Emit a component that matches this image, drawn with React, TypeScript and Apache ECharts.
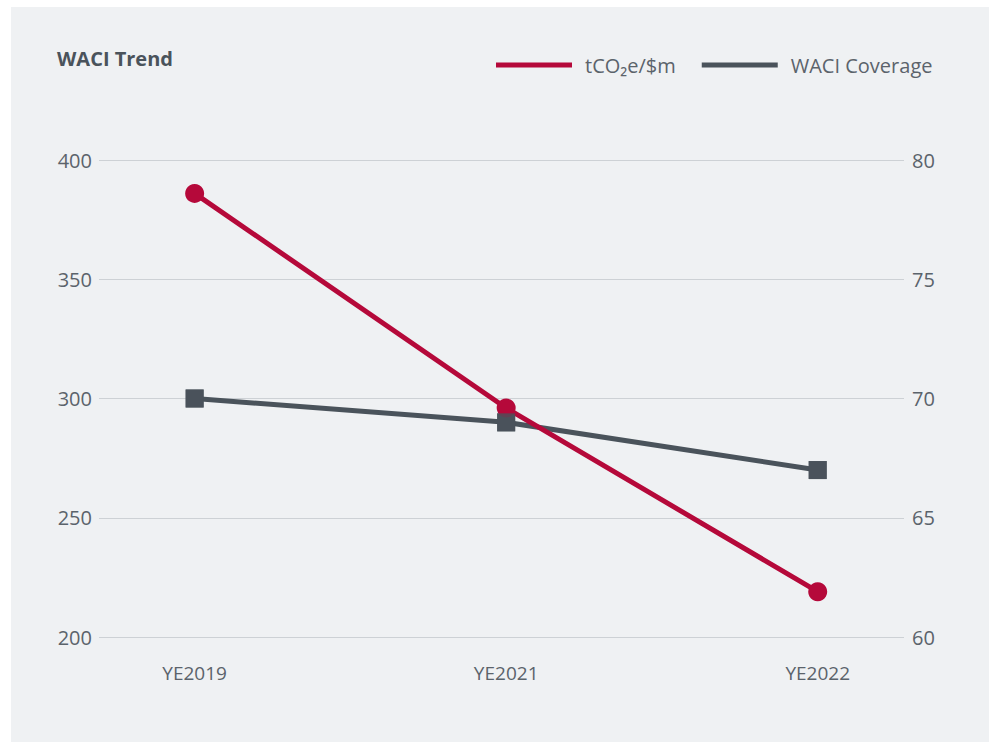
import React, { useEffect, useRef } from "react";
import * as echarts from "echarts";

const categories = ["YE2019", "YE2021", "YE2022"];
const intensity = [386, 296, 219];
const coverage = [70, 69, 67];
const leftTicks = [200, 250, 300, 350, 400];
const rightTicks = [60, 65, 70, 75, 80];
const seriesNames = ["tCO\u2082e/$m", "WACI Coverage"];
const titleText = "WACI Trend";

const RED = "#b5093a";
const GRAY = "#4a535b";
const LABEL = "#5b636b";
const FONT = "'Open Sans', sans-serif";

export default function App() {
  const ref = useRef<HTMLDivElement>(null);
  useEffect(() => {
    if (!ref.current) return;
    const chart = echarts.init(ref.current, undefined, { renderer: "svg" });
    const idx = categories.map((_, i) => i);
    chart.setOption({
      animation: false,
      backgroundColor: "transparent",
      textStyle: { fontFamily: FONT },
      graphic: [
        {
          type: "rect",
          z: -10,
          shape: { x: 11, y: 7, width: 978, height: 735 },
          style: { fill: "#eff1f3" },
        },
      ],
      title: {
        text: titleText,
        left: 52,
        top: 43,
        textStyle: { fontFamily: FONT, fontSize: 20, fontWeight: "bold", color: "#4a535b" },
      },
      legend: {
        data: seriesNames,
        left: 491,
        top: 50,
        icon: "rect",
        itemWidth: 76,
        itemHeight: 5,
        itemGap: 26,
        textStyle: { fontFamily: FONT, fontSize: 20, color: LABEL, padding: [0, 0, 0, 8] },
      },
      grid: { left: 99, right: 85, top: 160, bottom: 105, containLabel: false },
      xAxis: {
        type: "value",
        min: -0.307,
        max: 2.277,
        axisLine: { show: false },
        axisTick: { show: false },
        splitLine: { show: false },
        axisLabel: {
          customValues: idx,
          formatter: (v: number) => {
            const r = Math.round(v);
            return Math.abs(v - r) < 1e-6 && categories[r] ? categories[r] : "";
          },
          margin: 26,
          fontSize: 19,
          color: LABEL,
          fontFamily: FONT,
        },
      },
      yAxis: [
        {
          type: "value",
          min: leftTicks[0],
          max: leftTicks[leftTicks.length - 1],
          interval: leftTicks[1] - leftTicks[0],
          axisLine: { show: false },
          axisTick: { show: false },
          splitLine: { lineStyle: { color: "#cdd1d5", width: 1 } },
          axisLabel: { margin: 7, fontSize: 20, color: LABEL, fontFamily: FONT },
        },
        {
          type: "value",
          min: rightTicks[0],
          max: rightTicks[rightTicks.length - 1],
          interval: rightTicks[1] - rightTicks[0],
          axisLine: { show: false },
          axisTick: { show: false },
          splitLine: { show: false },
          axisLabel: { margin: 8, fontSize: 20, color: LABEL, fontFamily: FONT },
        },
      ],
      series: [
        {
          name: seriesNames[1],
          type: "line",
          yAxisIndex: 1,
          data: coverage.map((v, i) => [i, v]),
          symbol: "rect",
          symbolSize: 18,
          itemStyle: { color: GRAY },
          lineStyle: { color: GRAY, width: 5 },
          z: 2,
        },
        {
          name: seriesNames[0],
          type: "line",
          yAxisIndex: 0,
          data: intensity.map((v, i) => [i, v]),
          symbol: "circle",
          symbolSize: 19,
          itemStyle: { color: RED },
          lineStyle: { color: RED, width: 5 },
          z: 3,
        },
        {
          type: "scatter",
          yAxisIndex: 1,
          data: coverage.map((v, i) => [i, v]),
          symbol: "rect",
          symbolSize: 18,
          itemStyle: { color: GRAY },
          z: 4,
          silent: true,
        },
      ],
    });
    return () => chart.dispose();
  }, []);
  return (
    <div
      ref={ref}
      style={{ position: "absolute", left: 0, top: 0, width: 989, height: 742 }}
    />
  );
}
